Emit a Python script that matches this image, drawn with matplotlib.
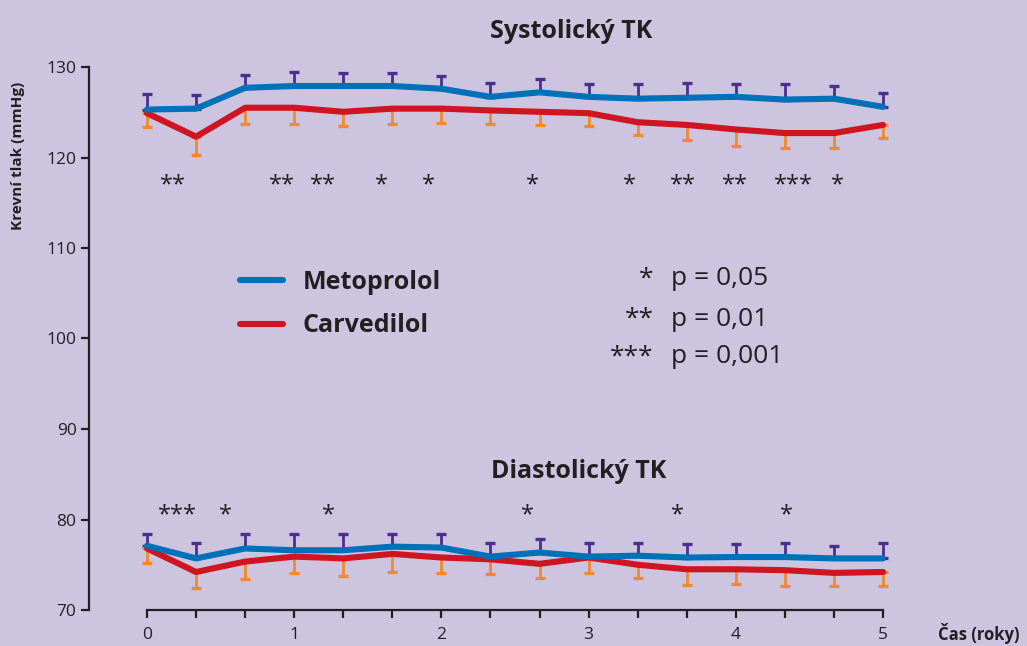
import numpy as np
import matplotlib.pyplot as plt
from matplotlib.ticker import MultipleLocator, FixedLocator

plt.rcParams["font.family"] = ["Open Sans", "DejaVu Sans"]

# time points every 4 months (years)
t = np.arange(16) / 3

# systolic pressure (mmHg)
sys_meto = [125.3, 125.4, 127.7, 127.9, 127.9, 127.9, 127.6, 126.7,
            127.2, 126.7, 126.5, 126.6, 126.7, 126.4, 126.5, 125.6]
sys_meto_err = [1.7, 1.5, 1.4, 1.5, 1.4, 1.4, 1.4, 1.5,
                1.5, 1.4, 1.6, 1.6, 1.4, 1.7, 1.4, 1.5]
sys_carv = [124.9, 122.3, 125.5, 125.5, 125.05, 125.4, 125.4, 125.2,
            125.05, 124.9, 123.9, 123.6, 123.1, 122.7, 122.7, 123.6]
sys_carv_err = [1.5, 2.0, 1.85, 1.8, 1.55, 1.75, 1.6, 1.55,
                1.45, 1.4, 1.4, 1.7, 1.8, 1.7, 1.6, 1.5]

# diastolic pressure (mmHg)
dia_meto = [77.1, 75.7, 76.8, 76.6, 76.6, 77.0, 76.9, 75.9,
            76.35, 75.9, 76.0, 75.8, 75.85, 75.85, 75.7, 75.7]
dia_meto_err = [1.35, 1.75, 1.65, 1.85, 1.85, 1.45, 1.55, 1.55,
                1.55, 1.5, 1.4, 1.5, 1.45, 1.55, 1.4, 1.7]
dia_carv = [76.8, 74.2, 75.35, 75.9, 75.7, 76.2, 75.8, 75.6,
            75.1, 75.8, 75.0, 74.5, 74.5, 74.4, 74.1, 74.2]
dia_carv_err = [1.6, 1.8, 1.95, 1.8, 1.9, 1.95, 1.7, 1.6,
                1.6, 1.7, 1.5, 1.7, 1.6, 1.75, 1.45, 1.55]

# significance markers
sys_sig_x = [0.177, 0.917, 1.196, 1.596, 1.909, 2.622, 3.281, 3.641, 3.995, 4.389, 4.688]
sys_sig = ["**", "**", "**", "*", "*", "*", "*", "**", "**", "***", "*"]
dia_sig_x = [0.21, 0.53, 1.236, 2.588, 3.601, 4.341]
dia_sig = ["***", "*", "*", "*", "*", "*"]

p_stars = ["*", "**", "***"]
p_vals = ["p = 0,05", "p = 0,01", "p = 0,001"]

bg = "#cdc5e0"
dark = "#231f20"
blue = "#0070b8"
red = "#cf1422"
purple = "#4d2d8f"
orange = "#f18a2a"

fig = plt.figure(figsize=(10.27, 6.46), dpi=100, facecolor=bg)
ax = fig.add_axes([89 / 1027, 1 - 610 / 646, (1010 - 89) / 1027, (610 - 67) / 646])
ax.set_facecolor(bg)
ax.set_xlim((89 - 147) / 147.2, (1010 - 147) / 147.2)
ax.set_ylim(70, 130)

# error bars (one-sided)
zeros = np.zeros(len(t))
eb_kw = dict(fmt="none", elinewidth=2.0, capsize=3.8, capthick=2.4, zorder=2)
ax.errorbar(t, sys_meto, yerr=[zeros, sys_meto_err], ecolor=purple, **eb_kw)
ax.errorbar(t, dia_meto, yerr=[zeros, dia_meto_err], ecolor=purple, **eb_kw)
ax.errorbar(t, sys_carv, yerr=[sys_carv_err, zeros], ecolor=orange, **eb_kw)
ax.errorbar(t, dia_carv, yerr=[dia_carv_err, zeros], ecolor=orange, **eb_kw)

lw = 4.4
l_carv, = ax.plot(t, sys_carv, color=red, lw=lw, solid_capstyle="round", zorder=3, label="Carvedilol")
ax.plot(t, dia_carv, color=red, lw=lw, solid_capstyle="round", zorder=3)
l_meto, = ax.plot(t, sys_meto, color=blue, lw=lw, solid_capstyle="round", zorder=4, label="Metoprolol")
ax.plot(t, dia_meto, color=blue, lw=lw, solid_capstyle="round", zorder=4)

# stars
for x, s in zip(sys_sig_x, sys_sig):
    ax.text(x, 116.9, s, ha="center", va="center", fontsize=17, color=dark)
for x, s in zip(dia_sig_x, dia_sig):
    ax.text(x, 80.5, s, ha="center", va="center", fontsize=17, color=dark)

# titles
ax.text(2.88, 133.9, "Systolický TK", ha="center", va="center",
        fontsize=18, fontweight="bold", color=dark, clip_on=False)
ax.text(2.93, 85.3, "Diastolický TK", ha="center", va="center",
        fontsize=18, fontweight="bold", color=dark)

# legend
leg = ax.legend(handles=[l_meto, l_carv], loc="upper left",
                bbox_to_anchor=((240 - 89) / 921, 1 - (270 - 67) / 543),
                frameon=False, fontsize=18, handlelength=1.72, handletextpad=0.8,
                labelspacing=0.74, borderpad=0, borderaxespad=0)
for txt in leg.get_texts():
    txt.set_fontweight("bold")
    txt.set_color(dark)

p_y = [106.6, 102.1, 98.0]
for st, pv, y in zip(p_stars, p_vals, p_y):
    ax.text(3.44, y, st, ha="right", va="center", fontsize=19, color=dark)
    ax.text(3.56, y, pv, ha="left", va="center", fontsize=19, color=dark)

# axes styling
for side in ["top", "right"]:
    ax.spines[side].set_visible(False)
ax.spines["left"].set_bounds(70, 130)
ax.spines["bottom"].set_bounds(0, 5)
for side in ["left", "bottom"]:
    ax.spines[side].set_linewidth(1.6)
    ax.spines[side].set_color(dark)

ax.yaxis.set_major_locator(MultipleLocator(10))
ax.xaxis.set_major_locator(FixedLocator([0, 1, 2, 3, 4, 5]))
ax.xaxis.set_minor_locator(FixedLocator([v for v in t if abs(v - round(v)) > 1e-6]))
ax.tick_params(which="both", direction="out", length=6, width=1.6, color=dark,
               labelsize=12.5, labelcolor=dark, pad=3)
ax.tick_params(axis="x", pad=6)

ax.set_ylabel("Krevní tlak (mmHg)", fontsize=11, fontweight="bold", color=dark)
ax.yaxis.set_label_coords(-0.069, 0.837)
ax.text(5.65, 67.4, "Čas (roky)", ha="center", va="center", fontsize=12,
        fontweight="bold", color=dark, clip_on=False)

fig.savefig("out.png", dpi=100, facecolor=bg)
